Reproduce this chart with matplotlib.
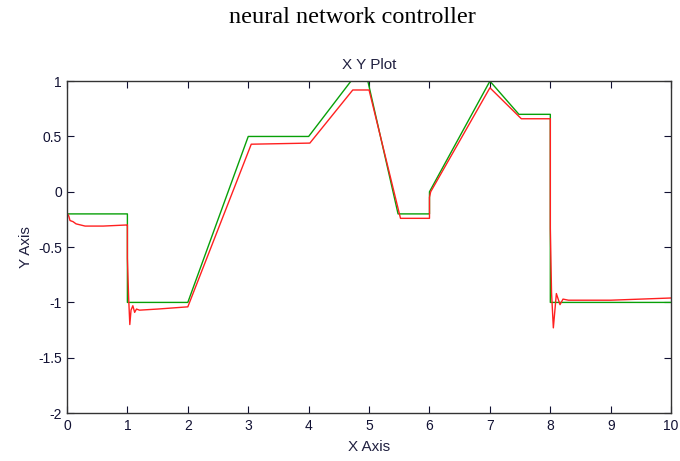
import matplotlib
matplotlib.use('Agg')
import matplotlib.pyplot as plt

# reference trajectory (green) breakpoints
ref_x = [0, 1, 1, 2, 3, 4, 4.7, 4.98, 5.48, 6, 6, 7, 7.48, 8, 8, 10]
ref_y = [-0.2, -0.2, -1, -1, 0.5, 0.5, 1, 1, -0.2, -0.2, 0.0, 1, 0.7, 0.7, -1, -1]

# controller output (red)
out_x = [0, 0, 0.03, 0.05, 0.1, 0.15, 0.3, 0.6, 0.99, 1.0, 1.0, 1.02, 1.04, 1.06, 1.09, 1.12, 1.15, 1.2, 1.5, 2.0,
         3.05, 4.02, 4.73, 5.0, 5.52, 6.0, 6.0, 6.02, 7.0, 7.52, 8.0, 8.0, 8.02, 8.05, 8.1, 8.16, 8.21, 8.3, 9.0, 10]
out_y = [0.0, -0.19, -0.22, -0.26, -0.27, -0.29, -0.31, -0.31, -0.30, -0.30, -0.6, -0.95, -1.2, -1.07, -1.03, -1.09,
         -1.06, -1.07, -1.06, -1.04, 0.43, 0.44, 0.92, 0.92, -0.24, -0.24, -0.05, 0.0, 0.94, 0.66, 0.66, -0.33, -0.91,
         -1.23, -0.92, -1.02, -0.97, -0.98, -0.98, -0.96]

fig = plt.figure(figsize=(6.8, 4.61), dpi=100)
fig.text(0.518, 0.961, 'neural network controller', ha='center', va='center',
         family='Liberation Serif', fontsize=17.5)

ax = fig.add_axes([0.0985, 0.104, 0.8885, 0.72])
ax.plot(ref_x, ref_y, color='#08a008', lw=1.0)
ax.plot(out_x, out_y, color='#ff2020', lw=1.0)

ax.set_xlim(0, 10)
ax.set_ylim(-2, 1)
ax.set_xticks(range(0, 11))
ax.set_yticks([-2, -1.5, -1, -0.5, 0, 0.5, 1])
ax.set_yticklabels(['-2', '-1.5', '-1', '-0.5', '0', '0.5', '1'])
ax.tick_params(direction='in', top=True, right=True, length=5, width=0.8,
               labelsize=10, colors='#111133')
ax.tick_params(axis='y', pad=3.5)
ax.tick_params(axis='x', pad=4)
for lab in ax.get_xticklabels() + ax.get_yticklabels():
    lab.set_family('Liberation Sans')
for s in ax.spines.values():
    s.set_color('#333333')
    s.set_linewidth(1.0)

ax.set_title('X Y Plot', family='Liberation Sans', fontsize=11, color='#202040', pad=9)
ax.set_xlabel('X Axis', family='Liberation Sans', fontsize=11, color='#202040', labelpad=5)
ax.set_ylabel('Y Axis', family='Liberation Sans', fontsize=11, color='#202040', labelpad=4)

fig.savefig('out.png', dpi=100)
